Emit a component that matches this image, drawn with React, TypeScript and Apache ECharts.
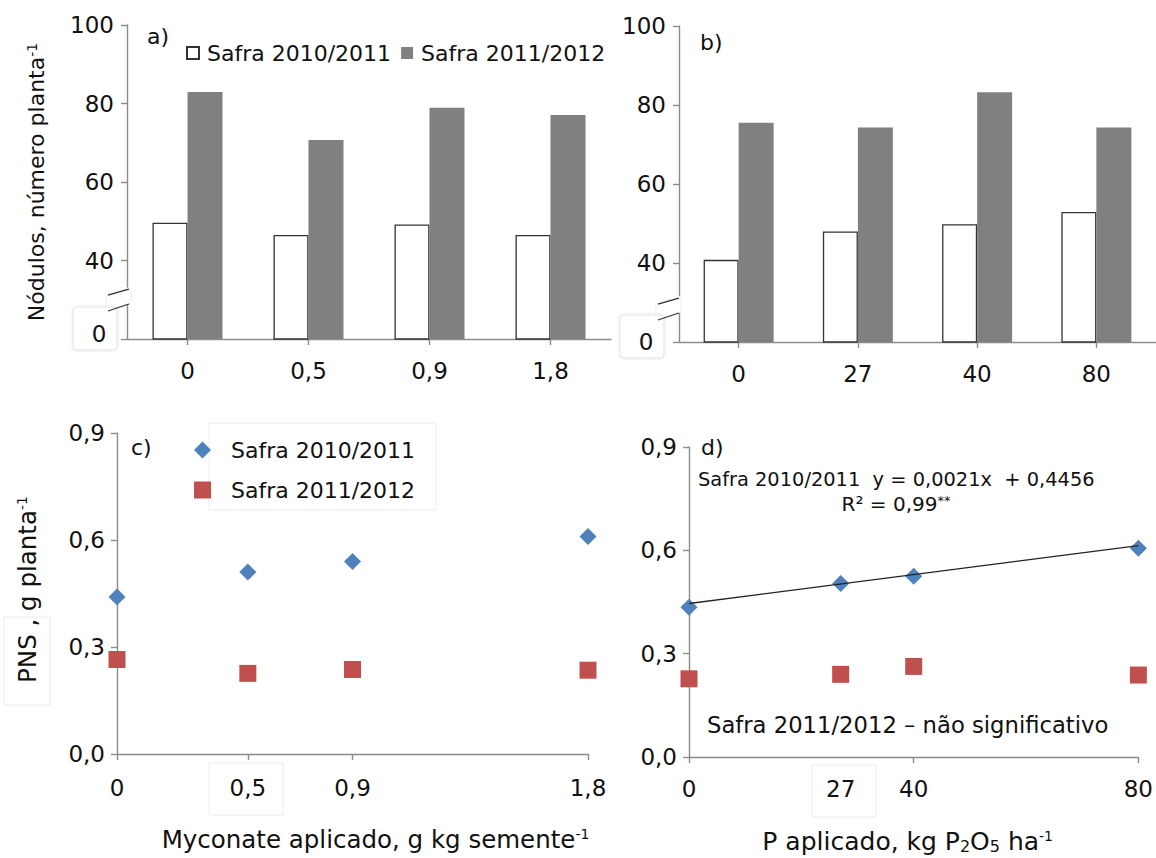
import React, { useEffect, useRef } from 'react';
import * as echarts from 'echarts';

// ---------- data ----------
const CATS_A = ['0', '0,5', '0,9', '1,8'];
const CATS_B = ['0', '27', '40', '80'];
const NOD_A_1011 = [49.6, 46.5, 49.2, 46.5];
const NOD_A_1112 = [82.9, 70.7, 78.9, 77.1];
const NOD_B_1011 = [40.8, 48.0, 49.8, 52.9];
const NOD_B_1112 = [75.5, 74.3, 83.2, 74.3];

const DOSE_C = [0, 0.5, 0.9, 1.8];
const PNS_C_1011 = [0.44, 0.51, 0.54, 0.61];
const PNS_C_1112 = [0.265, 0.226, 0.237, 0.235];

const DOSE_D = [0, 27, 40, 80];
const DOSE_D_TICKS = [0, 40, 80];
const PNS_D_1011 = [0.435, 0.504, 0.525, 0.606];
const PNS_D_1112 = [0.227, 0.24, 0.263, 0.238];

const TREND_SLOPE = 0.0021;
const TREND_INTERCEPT = 0.4456;

const S1 = 'Safra 2010/2011';
const S2 = 'Safra 2011/2012';

const FONT = '"DejaVu Sans", "Liberation Sans", Arial, sans-serif';
const TXT = '#111111';
const AXC = '#8c8c8c';

const comma = (v: number) => String(v).replace('.', ',');

function buildOption(): any {
  const axisLine = { show: true, lineStyle: { color: AXC, width: 1.4 } };
  const axisTick = { show: true, length: 6, lineStyle: { color: AXC, width: 1.4 } };
  const lbl = { color: TXT, fontSize: 23, fontFamily: FONT };
  const supRich = {
    sup: { fontSize: 14, fontFamily: FONT, color: TXT, verticalAlign: 'top', lineHeight: 12 },
    sub: { fontSize: 16, fontFamily: FONT, color: TXT, verticalAlign: 'bottom', lineHeight: 14 },
  };

  const nodY = (idx: number, named: boolean) => ({
    type: 'value',
    gridIndex: idx,
    min: 20,
    max: 100,
    interval: 20,
    splitLine: { show: false },
    axisLine,
    axisTick,
    axisLabel: { ...lbl, margin: 13, formatter: (v: number) => (v === 20 ? '' : String(v)) },
    ...(named
      ? {
          name: 'Nódulos, número planta{sup|-1}',
          nameLocation: 'middle',
          nameRotate: 90,
          nameGap: 80,
          nameTextStyle: { color: TXT, fontSize: 22, fontFamily: FONT, rich: supRich },
        }
      : {}),
  });

  const pnsY = (idx: number, named: boolean) => ({
    type: 'value',
    gridIndex: idx,
    min: 0,
    max: 0.9,
    interval: 0.3,
    splitLine: { show: false },
    axisLine,
    axisTick,
    axisLabel: { ...lbl, margin: 12, formatter: (v: number) => v.toFixed(1).replace('.', ',') },
    ...(named
      ? {
          name: 'PNS , g planta{sup|-1}',
          nameLocation: 'middle',
          nameRotate: 90,
          nameGap: 77,
          nameTextStyle: { color: TXT, fontSize: 24.5, fontFamily: FONT, rich: supRich, padding: [0, 0, 0, 8] },
        }
      : {}),
  });

  const catX = (idx: number, cats: string[]) => ({
    type: 'category',
    gridIndex: idx,
    data: cats,
    axisLine,
    axisTick: { ...axisTick, alignWithLabel: true },
    axisLabel: { ...lbl, margin: 20 },
  });

  const breakMark = (x: number, y: number) => [
    {
      type: 'polygon',
      shape: { points: [[x - 12, y], [x + 13, y - 8], [x + 13, y + 8], [x - 12, y + 16]] },
      style: { fill: '#ffffff', stroke: '#eeeeee', lineWidth: 1 },
      z: 50,
    },
    { type: 'line', shape: { x1: x - 10, y1: y, x2: x + 11, y2: y - 6 }, style: { stroke: '#333', lineWidth: 1.3 }, z: 51 },
    { type: 'line', shape: { x1: x - 10, y1: y + 16, x2: x + 11, y2: y + 9 }, style: { stroke: '#333', lineWidth: 1.3 }, z: 51 },
  ];

  const zeroBox = (x: number, y: number) => [
    {
      type: 'rect',
      shape: { x, y, width: 44, height: 43, r: 4 },
      style: { fill: '#ffffff', stroke: '#e3e3e3', lineWidth: 1, shadowBlur: 3, shadowColor: 'rgba(0,0,0,0.12)' },
      z: 50,
    },
    {
      type: 'text',
      x: x + 26,
      y: y + 27,
      style: { text: '0', fill: TXT, fontSize: 23, fontFamily: FONT, align: 'center', verticalAlign: 'middle' },
      z: 51,
    },
  ];

  const faintBox = (x: number, y: number, w: number, h: number) => ({
    type: 'rect',
    shape: { x, y, width: w, height: h },
    style: { fill: 'none', stroke: '#ececec', lineWidth: 1 },
    z: 1,
  });

  const label = (x: number, y: number, text: string, extra: any = {}) => ({
    type: 'text',
    x,
    y,
    style: { text, fill: TXT, fontSize: 22, fontFamily: FONT, verticalAlign: 'middle', ...extra },
    z: 60,
  });

  const trendData = [0, 80].map((x) => [x, TREND_INTERCEPT + TREND_SLOPE * x]);

  return {
    animation: false,
    backgroundColor: '#ffffff',
    textStyle: { fontFamily: FONT },
    grid: [
      { left: 127, top: 25, width: 484, height: 314 },
      { left: 679, top: 26, width: 487, height: 316 },
      { left: 117, top: 433, width: 471, height: 321 },
      { left: 689, top: 447, width: 452, height: 310 },
    ],
    xAxis: [
      catX(0, CATS_A),
      catX(1, CATS_B),
      {
        type: 'value',
        gridIndex: 2,
        min: 0,
        max: 1.8,
        splitLine: { show: false },
        axisLine,
        axisTick: { ...axisTick, customValues: DOSE_C },
        axisLabel: { ...lbl, margin: 22, customValues: DOSE_C, formatter: (v: number) => comma(v) },
        name: 'Myconate aplicado, g kg semente{sup|-1}',
        nameLocation: 'middle',
        nameGap: 73,
        nameTextStyle: { color: TXT, fontSize: 24.5, fontFamily: FONT, rich: supRich, padding: [0, 0, 0, 46] },
      },
      {
        type: 'value',
        gridIndex: 3,
        min: 0,
        max: 80,
        splitLine: { show: false },
        axisLine,
        axisTick: { ...axisTick, customValues: DOSE_D_TICKS },
        axisLabel: { ...lbl, margin: 20, customValues: DOSE_D, formatter: (v: number) => comma(v) },
        name: 'P aplicado, kg P{sub|2}O{sub|5} ha{sup|-1}',
        nameLocation: 'middle',
        nameGap: 72,
        nameTextStyle: { color: TXT, fontSize: 25, fontFamily: FONT, rich: supRich, padding: [0, 12, 0, 0] },
      },
    ],
    yAxis: [nodY(0, true), nodY(1, false), pnsY(2, true), pnsY(3, false)],
    legend: [
      {
        data: [S1, S2],
        left: 181,
        top: 37,
        itemWidth: 12,
        itemHeight: 12,
        itemGap: 10,
        icon: 'rect',
        textStyle: { color: TXT, fontSize: 22, fontFamily: FONT, padding: [0, 0, 0, 3] },
      },
      {
        data: [
          { name: S1, icon: 'diamond', itemStyle: { color: '#4f81bd', borderWidth: 0, opacity: 1 } },
          { name: S2, icon: 'rect', itemStyle: { color: '#c0504d', borderWidth: 0, opacity: 1 } },
        ],
        orient: 'vertical',
        left: 189,
        top: 434,
        itemWidth: 17,
        itemHeight: 17,
        itemGap: 18,
        textStyle: { color: TXT, fontSize: 22, fontFamily: FONT, padding: [0, 0, 0, 15] },
      },
    ],
    series: [
      {
        name: S1,
        type: 'bar',
        xAxisIndex: 0,
        yAxisIndex: 0,
        data: NOD_A_1011,
        barWidth: 35,
        barGap: '0%',
        itemStyle: { color: '#ffffff', borderColor: '#333333', borderWidth: 1.3 },
      },
      {
        name: S2,
        type: 'bar',
        xAxisIndex: 0,
        yAxisIndex: 0,
        data: NOD_A_1112,
        barWidth: 35,
        barGap: '0%',
        itemStyle: { color: '#808080' },
      },
      {
        name: S1,
        type: 'bar',
        xAxisIndex: 1,
        yAxisIndex: 1,
        data: NOD_B_1011,
        barWidth: 35,
        barGap: '0%',
        itemStyle: { color: '#ffffff', borderColor: '#333333', borderWidth: 1.3 },
      },
      {
        name: S2,
        type: 'bar',
        xAxisIndex: 1,
        yAxisIndex: 1,
        data: NOD_B_1112,
        barWidth: 35,
        barGap: '0%',
        itemStyle: { color: '#808080' },
      },
      {
        name: S1,
        type: 'scatter',
        xAxisIndex: 2,
        yAxisIndex: 2,
        symbol: 'diamond',
        symbolSize: 17,
        itemStyle: { color: '#4f81bd', opacity: 1 },
        data: DOSE_C.map((x, i) => [x, PNS_C_1011[i]]),
        z: 5,
      },
      {
        name: S2,
        type: 'scatter',
        xAxisIndex: 2,
        yAxisIndex: 2,
        symbol: 'rect',
        symbolSize: 17,
        itemStyle: { color: '#c0504d', opacity: 1 },
        data: DOSE_C.map((x, i) => [x, PNS_C_1112[i]]),
        z: 5,
      },
      {
        name: S1,
        type: 'scatter',
        xAxisIndex: 3,
        yAxisIndex: 3,
        symbol: 'diamond',
        symbolSize: 17,
        itemStyle: { color: '#4f81bd', opacity: 1 },
        data: DOSE_D.map((x, i) => [x, PNS_D_1011[i]]),
        z: 5,
      },
      {
        name: S2,
        type: 'scatter',
        xAxisIndex: 3,
        yAxisIndex: 3,
        symbol: 'rect',
        symbolSize: 17,
        itemStyle: { color: '#c0504d', opacity: 1 },
        data: DOSE_D.map((x, i) => [x, PNS_D_1112[i]]),
        z: 5,
      },
      {
        name: 'Tendência 2010/2011',
        type: 'line',
        xAxisIndex: 3,
        yAxisIndex: 3,
        symbol: 'none',
        data: trendData,
        lineStyle: { color: '#222222', width: 1.3 },
        z: 6,
      },
    ],
    graphic: [
      ...breakMark(118, 295),
      ...breakMark(668, 304),
      ...zeroBox(73, 307),
      ...zeroBox(620, 315),
      faintBox(209, 423, 227, 87),
      faintBox(209, 763, 74, 52),
      faintBox(812, 765, 64, 52),
      faintBox(4, 617, 46, 88),
      label(147, 36, 'a)'),
      label(700, 42, 'b)'),
      label(131, 447, 'c)'),
      label(701, 447, 'd)'),
      label(698, 479, 'Safra 2010/2011  y = 0,0021x  + 0,4456', { fontSize: 19.4 }),
      {
        type: 'text',
        x: 896,
        y: 504,
        style: {
          text: 'R² = 0,99{sup|**}',
          fill: TXT,
          fontSize: 20,
          fontFamily: FONT,
          align: 'center',
          verticalAlign: 'middle',
          rich: { sup: { fontSize: 13, fontFamily: FONT, fill: TXT, verticalAlign: 'top', lineHeight: 12 } },
        },
        z: 60,
      },
      label(707, 725, 'Safra 2011/2012 – não significativo', { fontSize: 22.7 }),
    ],
  };
}

export default function App() {
  const ref = useRef<HTMLDivElement>(null);
  useEffect(() => {
    document.body.style.margin = '0';
    const chart = echarts.init(ref.current as HTMLDivElement, null, { renderer: 'svg' });
    chart.setOption(buildOption());
    return () => chart.dispose();
  }, []);
  return <div ref={ref} style={{ width: 1156, height: 858 }} />;
}
